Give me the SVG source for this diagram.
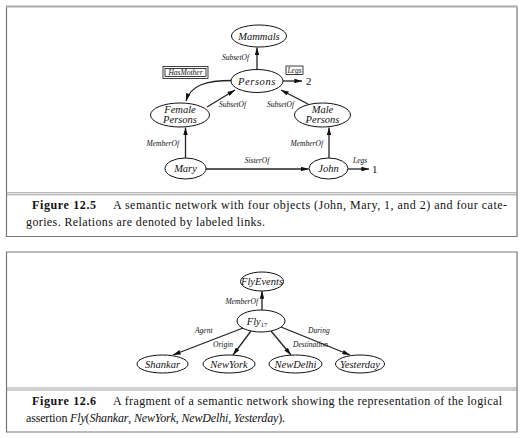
<svg xmlns="http://www.w3.org/2000/svg" width="523" height="438" viewBox="0 0 523 438" font-family="Liberation Serif, DejaVu Serif, serif">
<defs>
<marker id="ah" viewBox="0 0 10 6" refX="10" refY="3" markerWidth="8" markerHeight="4.6" orient="auto" markerUnits="userSpaceOnUse"><path d="M0,0 L10,3 L0,6 z" fill="#111"/></marker>
</defs>
<style>
.frame{fill:none;stroke:#777;stroke-width:1.2}
.top{stroke:#aaa;stroke-width:2}
.sep{stroke:#888;stroke-width:0.8}
.node ellipse{fill:#fff;stroke:#111;stroke-width:1}
.nl{font-style:italic;font-size:10.5px;fill:#111;text-anchor:middle}
.el{font-style:italic;font-size:7.5px;fill:#111}
.edge{stroke:#222;stroke-width:1.3;fill:none}
.cap{font-size:12px;fill:#111}
.capb{font-size:12px;font-weight:bold;fill:#111}
.num{font-size:11px;fill:#111}
</style>
<rect width="523" height="438" fill="#fff"/>
<g id="frame1">
<path class="frame" d="M6.5,7 V236.5 H517 V7"/>
<line class="top" x1="6" y1="6.5" x2="517.5" y2="6.5"/>
<line class="sep" x1="6.5" y1="192.8" x2="517" y2="192.8"/>
<line class="sep" x1="6.5" y1="194.8" x2="517" y2="194.8"/>
</g>
<g id="frame2">
<path class="frame" d="M6.5,252 V432 H517 V252 Z"/>
<line class="sep" x1="6.5" y1="388" x2="517" y2="388"/>
<line class="sep" x1="6.5" y1="390" x2="517" y2="390"/>
</g>
<g id="connectors">
<line class="edge" x1="257" y1="69.5" x2="257" y2="47.5" marker-end="url(#ah)"/>
<path class="edge" d="M232,80.5 C206,80.5 191,85 186,101" marker-end="url(#ah)"/>
<line class="edge" x1="283" y1="81" x2="302" y2="81" marker-end="url(#ah)"/>
<line class="edge" x1="207" y1="107" x2="235" y2="90" marker-end="url(#ah)"/>
<line class="edge" x1="308" y1="104" x2="281" y2="90" marker-end="url(#ah)"/>
<line class="edge" x1="185.5" y1="158" x2="185.5" y2="127.5" marker-end="url(#ah)"/>
<line class="edge" x1="329" y1="158" x2="329" y2="127.5" marker-end="url(#ah)"/>
<line class="edge" x1="206" y1="169" x2="308.5" y2="169" marker-end="url(#ah)"/>
<line class="edge" x1="348" y1="169" x2="369" y2="169" marker-end="url(#ah)"/>
<line class="edge" x1="262" y1="310" x2="262" y2="291" marker-end="url(#ah)"/>
<line class="edge" x1="243" y1="328" x2="173" y2="355" marker-end="url(#ah)"/>
<line class="edge" x1="251" y1="331" x2="233" y2="355" marker-end="url(#ah)"/>
<line class="edge" x1="271" y1="331" x2="291" y2="355" marker-end="url(#ah)"/>
<line class="edge" x1="281" y1="327" x2="350" y2="355" marker-end="url(#ah)"/>
<text class="el" x="249" y="60" text-anchor="end">SubsetOf</text>
<text class="el" x="219" y="107">SubsetOf</text>
<text class="el" x="267" y="107">SubsetOf</text>
<text class="el" x="179" y="146" text-anchor="end">MemberOf</text>
<text class="el" x="323" y="146" text-anchor="end">MemberOf</text>
<text class="el" x="257" y="163" text-anchor="middle">SisterOf</text>
<text class="el" x="353" y="163">Legs</text>
<text class="num" x="306" y="85">2</text>
<text class="num" x="372" y="173">1</text>
<text class="el" x="258" y="304" text-anchor="end">MemberOf</text>
<text class="el" x="195" y="333">Agent</text>
<text class="el" x="213" y="347">Origin</text>
<text class="el" x="293" y="347">Destination</text>
<text class="el" x="308" y="333">During</text>
</g>
<g id="hasmother">
<rect x="163" y="66.5" width="45" height="12" fill="none" stroke="#111" stroke-width="0.8"/>
<rect x="165" y="68.5" width="41" height="8" fill="none" stroke="#111" stroke-width="0.8"/>
<text class="el" x="185.5" y="75.3" text-anchor="middle">HasMother</text>
</g>
<g id="legsbox">
<rect x="286" y="66" width="17" height="8.5" fill="none" stroke="#111" stroke-width="0.8"/>
<text class="el" x="294.5" y="72.8" text-anchor="middle">Legs</text>
</g>
<g id="mammals" class="node"><ellipse cx="259" cy="36" rx="27.5" ry="11"/><text class="nl" x="259" y="39.5">Mammals</text></g>
<g id="persons" class="node"><ellipse cx="257" cy="81" rx="26" ry="11.5"/><text class="nl" x="257" y="84.5" letter-spacing="0.6">Persons</text></g>
<g id="female" class="node"><ellipse cx="180" cy="115" rx="29.5" ry="12"/><text class="nl" x="180" y="112.5">Female</text><text class="nl" x="180" y="122.8" font-size="10px">Persons</text></g>
<g id="male" class="node"><ellipse cx="322.5" cy="115" rx="28" ry="12"/><text class="nl" x="322.5" y="112.5">Male</text><text class="nl" x="322.5" y="122.8" font-size="10px">Persons</text></g>
<g id="mary" class="node"><ellipse cx="185.5" cy="168.5" rx="20.5" ry="10.5"/><text class="nl" x="185.5" y="172">Mary</text></g>
<g id="john" class="node"><ellipse cx="328.5" cy="168.5" rx="19.5" ry="10.5"/><text class="nl" x="328.5" y="172">John</text></g>
<g id="flyevents" class="node"><ellipse cx="262" cy="281.5" rx="21.5" ry="9.5"/><text class="nl" x="262" y="285" font-size="9.5px">FlyEvents</text></g>
<g id="fly17" class="node"><ellipse cx="261" cy="321" rx="24" ry="11"/><text class="nl" x="257" y="324.5">Fly<tspan font-size="6.5px" font-style="normal" dy="2.5">17</tspan></text></g>
<g id="shankar" class="node"><ellipse cx="162.5" cy="364" rx="25.5" ry="9"/><text class="nl" x="162.5" y="367.5">Shankar</text></g>
<g id="newyork" class="node"><ellipse cx="229" cy="364" rx="26" ry="9"/><text class="nl" x="229" y="367.5">NewYork</text></g>
<g id="newdelhi" class="node"><ellipse cx="295.5" cy="364" rx="26.5" ry="9"/><text class="nl" x="295.5" y="367.5">NewDelhi</text></g>
<g id="yesterday" class="node"><ellipse cx="360" cy="364" rx="24.5" ry="9"/><text class="nl" x="360" y="367.5">Yesterday</text></g>
<g id="caption1">
<text class="capb" x="32" y="209" textLength="64" lengthAdjust="spacing">Figure 12.5</text>
<text class="cap" x="113" y="209" textLength="394" lengthAdjust="spacing">A semantic network with four objects (John, Mary, 1, and 2) and four cate-</text>
<text class="cap" x="26" y="226" textLength="239" lengthAdjust="spacing">gories. Relations are denoted by labeled links.</text>
</g>
<g id="caption2">
<text class="capb" x="32" y="405" textLength="64" lengthAdjust="spacing">Figure 12.6</text>
<text class="cap" x="113" y="405" textLength="389" lengthAdjust="spacing">A fragment of a semantic network showing the representation of the logical</text>
<text class="cap" x="26" y="422" textLength="259" lengthAdjust="spacing">assertion <tspan font-style="italic">Fly</tspan>(<tspan font-style="italic">Shankar</tspan>, <tspan font-style="italic">NewYork</tspan>, <tspan font-style="italic">NewDelhi</tspan>, <tspan font-style="italic">Yesterday</tspan>).</text>
</g>
</svg>
